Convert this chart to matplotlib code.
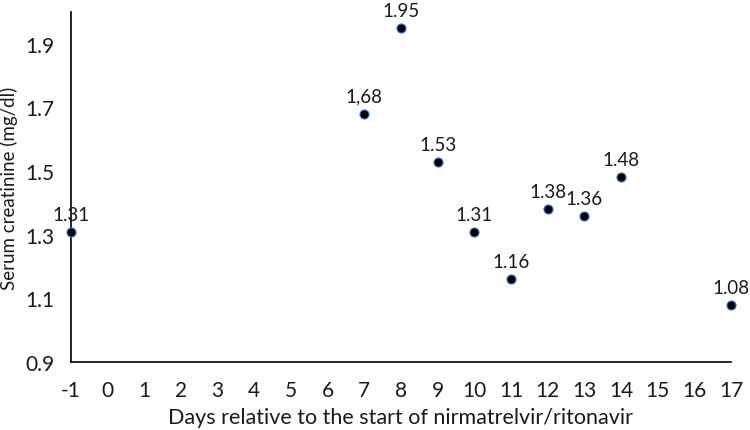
import matplotlib
matplotlib.use("Agg")
import matplotlib.pyplot as plt

days = [-1, 7, 8, 9, 10, 11, 12, 13, 14, 17]
creatinine = [1.31, 1.68, 1.95, 1.53, 1.31, 1.16, 1.38, 1.36, 1.48, 1.08]
point_labels = ["1.31", "1,68", "1.95", "1.53", "1.31", "1.16", "1.38", "1.36", "1.48", "1.08"]
x_ticks = list(range(-1, 18))
y_ticks = [0.9, 1.1, 1.3, 1.5, 1.7, 1.9]

plt.rcParams['font.family'] = ['Lato', 'DejaVu Sans']

fig = plt.figure(figsize=(7.5, 4.31), dpi=100)
ax = fig.add_axes([71/750, 1-363/431, 660/750, 350/431])

ax.scatter(days, creatinine, s=42, color='black', edgecolors='#3a6fc4', linewidths=0.8, zorder=3, clip_on=False)
for x, y, t in zip(days, creatinine, point_labels):
    ax.annotate(t, (x, y), xytext=(0, 6.5), textcoords='offset points', ha='center', va='bottom', fontsize=13.5, color='#1a1a1a')

ax.set_xlim(-1, 17)
ax.set_ylim(0.9, 2.0)
ax.set_xticks(x_ticks)
ax.set_xticklabels([str(v) for v in x_ticks])
ax.set_yticks(y_ticks)
ax.set_yticklabels([f"{v:.1f}" for v in y_ticks])
ax.tick_params(axis='both', length=0, labelsize=15, colors='#1a1a1a')
ax.tick_params(axis='x', pad=13)
ax.tick_params(axis='y', pad=12)
for s in ['top', 'right']:
    ax.spines[s].set_visible(False)
for s in ['left', 'bottom']:
    ax.spines[s].set_linewidth(1.2)
    ax.spines[s].set_color('black')

ax.set_xlabel("Days relative to the start of nirmatrelvir/ritonavir", fontsize=15.5, color='#1a1a1a', labelpad=5)
ax.set_ylabel("Serum creatinine (mg/dl)", fontsize=13.5, color='#1a1a1a')
ax.yaxis.set_label_coords((18 - 71) / 660, 0.5)

fig.savefig("out.png", dpi=100)
